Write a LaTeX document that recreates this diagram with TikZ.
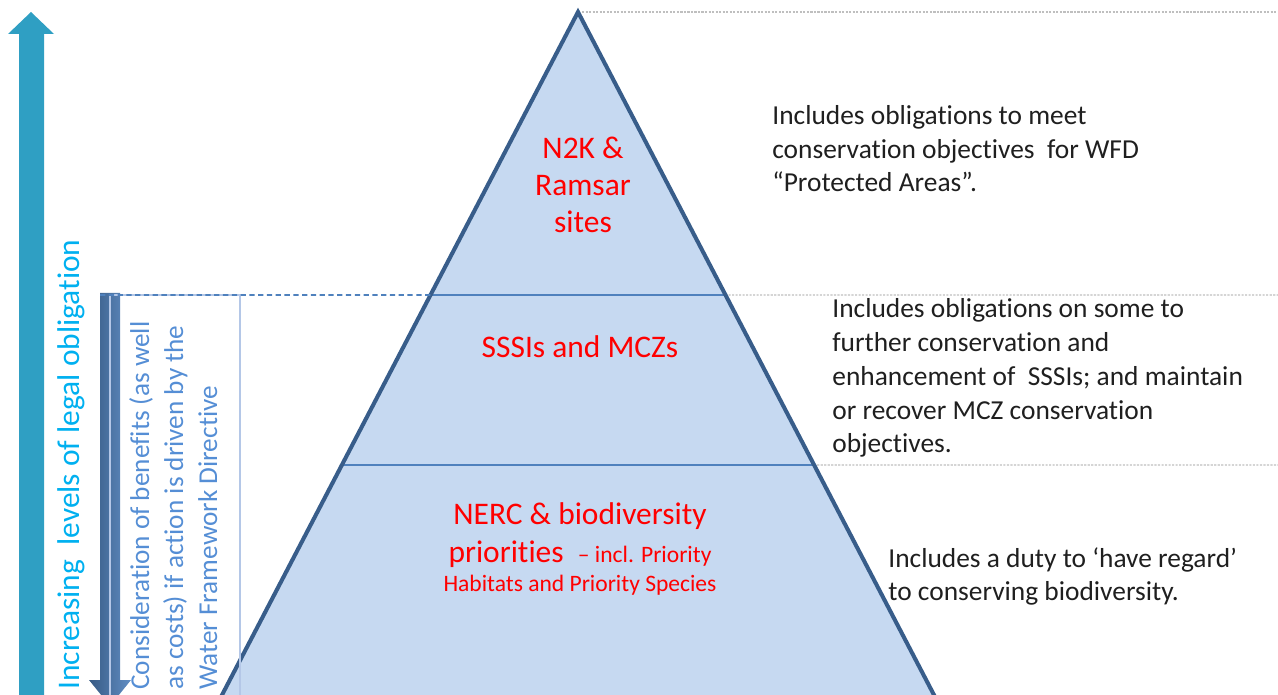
\documentclass[tikz,border=0pt]{standalone}
\usepackage{fontspec}
\setmainfont{Carlito}[Ligatures={TeX,NoCommon}]
\usetikzlibrary{calc}
\definecolor{pyrfill}{HTML}{C6D9F1}
\definecolor{pyredge}{HTML}{385D8A}
\definecolor{tierline}{HTML}{4F81BD}
\definecolor{legalcyan}{HTML}{00B0F0}
\definecolor{arrowedge}{HTML}{2F9FC3}
\definecolor{arrowmid}{HTML}{50CBEF}
\definecolor{wfdblue}{HTML}{558ED5}
\definecolor{wfdbox}{HTML}{B4C7E7}
\definecolor{guidegrey}{HTML}{BFBFBF}
\def\drawguide{\draw[color=guidegrey, line width=0.8pt, dash pattern=on 1.2pt off 0.8pt]}
\def\drawtier{\draw[color=tierline, line width=1pt]}
\def\tiernode{\node[text=red, align=center, inner sep=0pt, anchor=base, font=\fontsize{17.9}{21.3}\selectfont]}
\def\notenode{\node[text=black!88, align=left, inner sep=0pt, anchor=base west, font=\fontsize{15.6}{19.3}\selectfont]}

\begin{document}
\begin{tikzpicture}[x=0.02cm, y=-0.02cm]
\useasboundingbox (0,0) rectangle (1278,695);
\begin{scope}
\clip (0,0) rectangle (1278,695);

% -------- the pyramid ---------
\coordinate (apex) at (578,12);
\coordinate (bl) at (222,695); % left corner at the bottom edge
\coordinate (br) at (934,695); % right corner at the bottom edge
\coordinate (blx) at ($ (apex)!1.05!(bl) $);
\coordinate (brx) at ($ (apex)!1.05!(br) $);
\fill[pyrfill] (apex) -- (blx) -- (brx) -- cycle;

% tier boundaries, where they meet the two sides
\coordinate (t1l) at ($ (apex)!0.4143!(bl) $);
\coordinate (t1r) at ($ (apex)!0.4143!(br) $);
\coordinate (t2l) at ($ (apex)!0.6633!(bl) $);
\coordinate (t2r) at ($ (apex)!0.6633!(br) $);
\drawtier (t1l) -- (t1r);
\drawtier (t2l) -- (t2r);
\draw[color=pyredge, line width=2.3pt, line join=miter] (blx) -- (apex) -- (brx);

% grey guides out to the right edge
\coordinate (g0) at (1278,12);
\coordinate (g1) at (1278,295);
\coordinate (g2) at (1278,465);
\drawguide ($ (apex)+(4,0) $) -- (g0);
\drawguide ($ (t1r)+(3,0) $) -- (g1);
\drawguide ($ (t2r)+(3,0) $) -- (g2);
% ------ end pyramid ------

% -------- left arrows ---------
\shade[left color=arrowedge, middle color=arrowmid, right color=arrowedge]
  (19,695) -- (19,34) -- (8,34) -- (31,12) -- (54,34) -- (44,34) -- (44,695) -- cycle;
\shade[left color=tierline!70!black, right color=tierline!90!white]
  (100,293) -- (120,293) -- (120,680) -- (131,680) -- (110,706) -- (89,680) -- (100,680) -- cycle;
\draw[color=wfdbox, line width=0.6pt] (110,295) rectangle (240,700);
\coordinate (dstart) at (100,295);
\draw[color=tierline, line width=1pt, dash pattern=on 3pt off 2pt] (dstart) -- (t1l);
% ------ end arrows ------
\end{scope}

% -------- labels ---------
% multi-line nodes sit on the baseline of their last line
\node[rotate=90, anchor=base west, inner sep=0pt, text=legalcyan,
  font=\fontsize{17.9}{21}\selectfont] (legal) at (79,690) {Increasing\ \ levels of legal obligation};
\node[rotate=90, anchor=base west, align=left, inner sep=0pt, text=wfdblue,
  font=\fontsize{15.5}{19.3}\selectfont] (wfd) at (217,690)
  {Consideration of benefits (as well\\as costs) if action is driven by the\\Water Framework Directive};

\tiernode (n2k) at (583,233) {N2K \&\\Ramsar\\sites};
\tiernode (sssi) at (580,358) {SSSIs and MCZs};
\tiernode (nerc) at (580,525) {NERC \& biodiversity};
\tiernode (prio) at (580,562) {priorities\ \ {\fontsize{13.4}{16}\selectfont – incl. Priority}};
\tiernode[font=\fontsize{13.4}{16}\selectfont] (habs) at (580,592) {Habitats and Priority Species};

\notenode (obl1) at (772,192) {Includes obligations to meet\\conservation objectives\ \ for WFD\\“Protected Areas”.};
\notenode (obl2) at (832,453) {Includes obligations on some to\\further conservation and\\enhancement of\ \ SSSIs; and maintain\\or recover MCZ conservation\\objectives.};
\notenode (obl3) at (888,601) {Includes a duty to ‘have regard’\\to conserving biodiversity.};
\end{tikzpicture}
\end{document}
